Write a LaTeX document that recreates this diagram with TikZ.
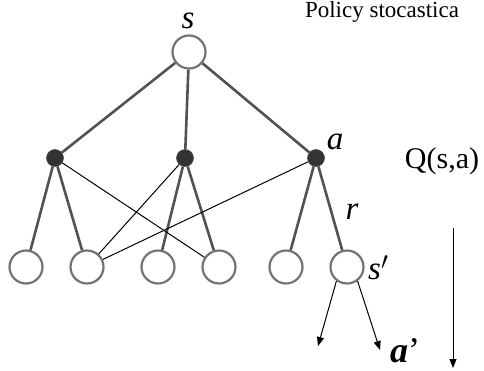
\documentclass[tikz,border=0pt]{standalone}
\usepackage{fontspec}
\setmainfont{Liberation Serif}
\usetikzlibrary{arrows.meta}

\tikzset{
  state/.style={circle,draw=black!55,line width=2.2pt,minimum size=33pt,inner sep=0pt},
  act/.style={circle,fill=black!80,draw=black!70,line width=0.6pt,minimum size=17pt,inner sep=0pt},
  tree/.style={draw=black!68,line width=2.6pt},
  cross/.style={draw=black,line width=1pt},
  lab/.style={font=\fontsize{33}{33}\selectfont\itshape,inner sep=0pt},
}

\begin{document}
\begin{tikzpicture}[x=1pt,y=-1pt,>={Triangle[length=9pt,width=7pt]}]
\useasboundingbox (0,0) rectangle (484,370);
% ---------- captions ----------
\node[anchor=base,inner sep=0pt,font=\fontsize{23}{23}\selectfont] (pol) at (382,17) {Policy stocastica};
\node[anchor=base,inner sep=0pt,font=\fontsize{30}{30}\selectfont] (q) at (442,168) {Q(s,a)};
% ---------- nodes ----------
% root state
\node[state] (s) at (189,52) {};
% action nodes
\node[act] (a1) at (55,158) {};
\node[act] (a2) at (185,158) {};
\node[act] (a3) at (316,158) {};
% successor states
\node[state] (l1) at (26,267) {};
\node[state] (l2) at (87,267) {};
\node[state] (l3) at (158,267) {};
\node[state] (l4) at (219,267) {};
\node[state] (l5) at (286,267) {};
\node[state] (l6) at (347,267) {};
% ---------- edges ----------
\draw[tree] (s) -- (a1);
\draw[tree] (s) -- (a2);
\draw[tree] (s) -- (a3);
\draw[tree] (a1) -- (l1);
\draw[tree] (a1) -- (l2);
\draw[tree] (a2) -- (l3);
\draw[tree] (a2) -- (l4);
\draw[tree] (a3) -- (l5);
\draw[tree] (a3) -- (l6);
% thin crossing edges
\draw[cross] (a1) -- (l4);
\draw[cross] (a2) -- (l2);
\draw[cross] (a3) -- (l2);
% next actions from s'
\coordinate (n1) at (318,346);
\coordinate (n2) at (380,350);
\draw[->,line width=1pt] (l6.233) -- (n1);
\draw[->,line width=1pt] (l6.307) -- (n2);
% backup direction
\coordinate (qtop) at (453,228);
\coordinate (qbot) at (453,368);
\draw[->,line width=1pt] (qtop) -- (qbot);
% ---------- labels ----------
\node[lab,anchor=base] (ls) at (188,28) {s};
\node[lab,anchor=base] (la) at (335,149) {a};
\node[lab,anchor=base] (lr) at (352,219) {r};
\node[lab,anchor=base west] (lsp) at (368,279) {s$'$};
\node[anchor=base west,inner sep=0pt,font=\fontsize{36}{36}\selectfont] (lap) at (390,362) {\textbf{\textit{a}}’};
\end{tikzpicture}
\end{document}
